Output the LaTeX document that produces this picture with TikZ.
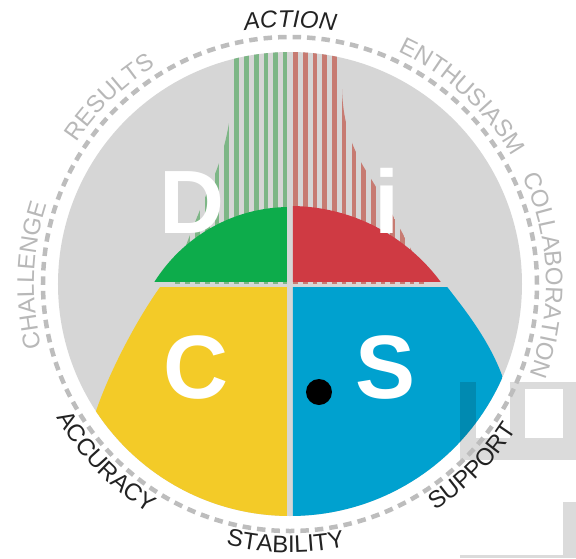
\documentclass[tikz,border=0pt]{standalone}
\usepackage{fontspec}
\setmainfont{Liberation Sans}
\usetikzlibrary{decorations.text}
\definecolor{bgc}{RGB}{214,214,214}
\definecolor{dgreen}{RGB}{13,172,75}
\definecolor{dred}{RGB}{207,58,67}
\definecolor{dyellow}{RGB}{243,203,40}
\definecolor{dblue}{RGB}{0,161,207}
\definecolor{gstripe}{RGB}{125,182,134}
\definecolor{rstripe}{RGB}{199,123,114}
\definecolor{ringc}{RGB}{189,189,189}
\definecolor{lblgray}{RGB}{184,184,184}
\definecolor{lbldark}{RGB}{34,34,34}
\tikzset{
  bigl/.style={text=white, anchor=base, inner sep=0pt, font=\fontsize{90}{90}\selectfont\bfseries},
  overlay/.style={fill=black, fill opacity=0.14},
  toplbl/.style={decorate, decoration={text along path, text align=center, text={#1}}},
}
\newcommand{\grayfmt}{|\fontsize{24}{24}\selectfont\color{lblgray}|}
\newcommand{\darkfmt}{|\fontsize{24}{24}\selectfont\color{lbldark}|}
\newcommand{\darkit}{|\fontsize{24}{24}\selectfont\itshape\color{lbldark}|}
\begin{document}
\begin{tikzpicture}[x=1pt,y=1pt]
\useasboundingbox (-290,-274) rectangle (286,284);
\fill[white] (-290,-274) rectangle (286,284);
% main disc
\fill[bgc] (0,0) circle (232);
% green stripes
\begin{scope}
\clip (0,0) circle (232);
\clip (-56,270) -- (-56,215) .. controls (-57,175) and (-63,140) .. (-75,110) .. controls (-90,75) and (-108,30) .. (-118,0) -- (-3,0) -- (-3,270) -- cycle;
\foreach \k in {0,...,13} \fill[gstripe] ({-6.7-9.8*\k},0) rectangle ++(4.8,240);
\end{scope}
% red stripes
\begin{scope}
\clip (0,0) circle (232);
\clip (3,270) -- (52,270) -- (52,195) .. controls (53,160) and (62,135) .. (78,110) .. controls (100,75) and (125,30) .. (137,0) -- (3,0) -- cycle;
\foreach \k in {0,...,14} \fill[rstripe] ({3.3+9.7*\k},0) rectangle ++(4.7,240);
\end{scope}
% green
\begin{scope}
\clip (-300,3) rectangle (-3,300);
\fill[dgreen] (0,-83.1) circle (160.1);
\end{scope}
% red
\begin{scope}
\clip (3,3) rectangle (300,300);
\fill[dred] (0,-109.5) circle (187.5);
\end{scope}
% yellow
\begin{scope}
\clip (0,0) circle (232);
\clip (-300,-3) rectangle (-3,-300);
\fill[dyellow] (-3,5) -- (-124,5) -- (-127,1) .. controls (-150,-30) and (-180,-85) .. (-195,-130) -- (-212,-180) -- (-212,-300) -- (0,-300) -- cycle;
\end{scope}
% blue
\begin{scope}
\clip (0,0) circle (232);
\clip (3,-3) rectangle (300,-300);
\fill[dblue] (3,5) -- (151,5) -- (155,0) .. controls (170,-20) and (200,-55) .. (214,-97) -- (232,-150) -- (232,-300) -- (0,-300) -- cycle;
\end{scope}
% big letters
\node[bigl] (D) at (-98,51) {D};
\node[bigl] (I) at (97,51) {i};
\node[bigl] (C) at (-94,-114) {C};
\node[bigl] (S) at (96,-114) {S};
\node[circle, fill=black, minimum size=26pt, inner sep=0pt] (dot) at (29,-108) {};
% faint overlay bars
\fill[overlay] (170,-98) rectangle (186,-154);
\fill[overlay] (170,-154) rectangle (286,-176);
\fill[overlay] (220,-98) rectangle (235,-154);
\fill[overlay] (235,-98) rectangle (273,-105);
\fill[overlay] (273,-98) rectangle (286,-154);
\fill[overlay] (273,-218) rectangle (286,-271);
\fill[overlay] (170,-271) rectangle (286,-274);
% dashed ring
\draw[ringc, line width=4.5pt, dash pattern=on 8.5pt off 6pt] (0,0) circle (247);
% labels (clockwise, outward)
\path[toplbl={\darkit ACTION}] (130:257) arc[start angle=130, end angle=50, radius=257];
\path[toplbl={\grayfmt RESULTS}] (174:256) arc[start angle=174, end angle=94, radius=256];
\path[toplbl={\grayfmt ENTHUSIASM}] (87.5:256) arc[start angle=87.5, end angle=7.5, radius=256];
\path[toplbl={\grayfmt CHALLENGE}] (218:256) arc[start angle=218, end angle=138, radius=256];
\path[toplbl={\grayfmt COLLABORATION}] (42:256) arc[start angle=42, end angle=-38, radius=256];
% labels (counter-clockwise, inward)
\path[toplbl={\darkfmt ACCURACY}] (184:269) arc[start angle=184, end angle=264, radius=269];
\path[toplbl={\darkfmt STABILITY}] (229:268.5) arc[start angle=229, end angle=309, radius=268.5];
\path[toplbl={\darkfmt SUPPORT}] (275:269) arc[start angle=275, end angle=355, radius=269];
\end{tikzpicture}
\end{document}
